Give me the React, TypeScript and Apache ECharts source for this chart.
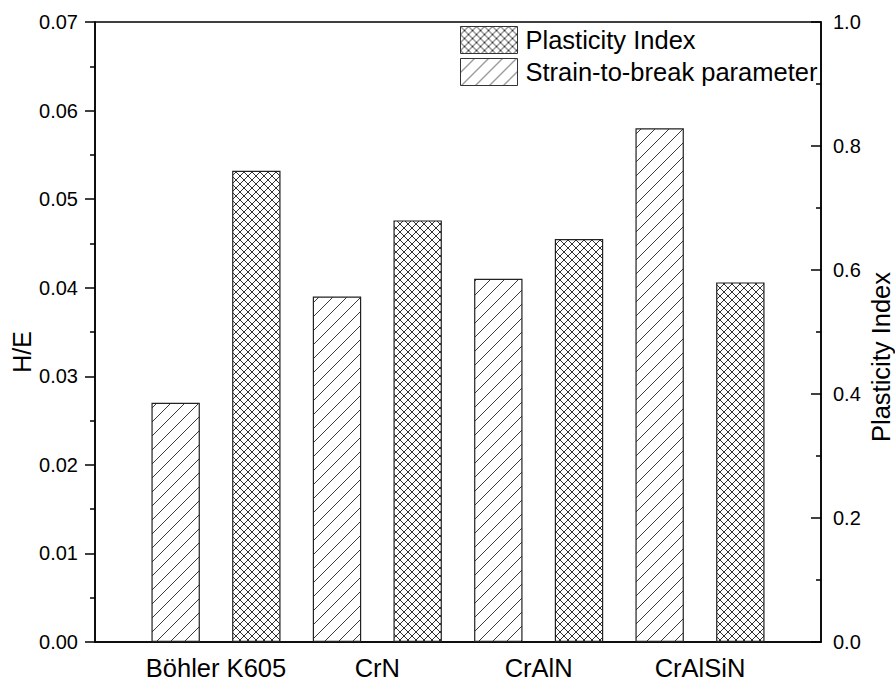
import React, { useEffect, useRef } from "react";
import * as echarts from "echarts";

// Coatings compared
const categories = ["Böhler K605", "CrN", "CrAlN", "CrAlSiN"];
// H/E ratio (strain-to-break parameter), left axis
const strainToBreak = [0.027, 0.039, 0.041, 0.058];
// Plasticity index, right axis
const plasticityIndex = [0.76, 0.68, 0.65, 0.58];

const FONT = "'Liberation Sans', Arial, Helvetica, sans-serif";

function makeDiagonalTile(): HTMLCanvasElement {
  const s = 14;
  const c = document.createElement("canvas");
  c.width = s;
  c.height = s;
  const ctx = c.getContext("2d")!;
  ctx.fillStyle = "#ffffff";
  ctx.fillRect(0, 0, s, s);
  ctx.strokeStyle = "#3a3a3a";
  ctx.lineWidth = 1;
  ctx.beginPath();
  ctx.moveTo(-2, s + 2);
  ctx.lineTo(s + 2, -2);
  ctx.moveTo(-2, 2);
  ctx.lineTo(2, -2);
  ctx.moveTo(s - 2, s + 2);
  ctx.lineTo(s + 2, s - 2);
  ctx.stroke();
  return c;
}

function makeCrossTile(): HTMLCanvasElement {
  const s = 8;
  const c = document.createElement("canvas");
  c.width = s;
  c.height = s;
  const ctx = c.getContext("2d")!;
  ctx.fillStyle = "#ffffff";
  ctx.fillRect(0, 0, s, s);
  ctx.strokeStyle = "#333333";
  ctx.lineWidth = 1;
  ctx.beginPath();
  ctx.moveTo(-1, -1);
  ctx.lineTo(s + 1, s + 1);
  ctx.moveTo(-1, s + 1);
  ctx.lineTo(s + 1, -1);
  ctx.stroke();
  return c;
}

export default function App() {
  const ref = useRef<HTMLDivElement>(null);

  useEffect(() => {
    if (!ref.current) return;
    const chart = echarts.init(ref.current, undefined, { renderer: "svg" });

    const diagonal = { image: makeDiagonalTile(), repeat: "repeat" as const };
    const cross = { image: makeCrossTile(), repeat: "repeat" as const };

    const tickLabel = { fontSize: 20, color: "#000", fontFamily: FONT };

    chart.setOption({
      animation: false,
      backgroundColor: "#ffffff",
      textStyle: { fontFamily: FONT },
      grid: {
        left: 95,
        right: 74,
        top: 22,
        bottom: 34,
        show: true,
        borderColor: "#000",
        borderWidth: 1.5,
        backgroundColor: "transparent",
      },
      legend: {
        orient: "vertical",
        left: 460,
        top: 26,
        padding: 0,
        itemWidth: 57,
        itemHeight: 27,
        itemGap: 4,
        icon: "rect",
        data: ["Plasticity Index", "Strain-to-break parameter"],
        itemStyle: { borderColor: "#333", borderWidth: 1 },
        textStyle: {
          fontSize: 25.5,
          color: "#000",
          fontFamily: FONT,
          padding: [0, 0, 0, 3],
        },
      },
      xAxis: {
        type: "value",
        min: 0.25,
        max: 4.75,
        interval: 0.25,
        axisLine: { show: true, lineStyle: { color: "#000", width: 1.5 } },
        axisTick: { show: false },
        splitLine: { show: false },
        axisLabel: {
          fontSize: 25.5,
          color: "#000",
          fontFamily: FONT,
          margin: 13,
          formatter: (v: number) => {
            const i = Math.round(v);
            return Math.abs(v - i) < 1e-6 && i >= 1 && i <= categories.length
              ? categories[i - 1]
              : "";
          },
        },
      },
      yAxis: [
        {
          type: "value",
          position: "left",
          min: 0,
          max: 0.07,
          interval: 0.01,
          axisLine: { show: true, lineStyle: { color: "#000", width: 1.5 } },
          axisTick: { show: true, inside: false, length: 10, lineStyle: { color: "#000", width: 1.5 } },
          minorTick: { show: true, splitNumber: 2, length: 5, lineStyle: { color: "#000", width: 1.5 } },
          splitLine: { show: false },
          axisLabel: { ...tickLabel, margin: 17, formatter: (v: number) => v.toFixed(2) },
        },
        {
          type: "value",
          position: "right",
          min: 0,
          max: 1,
          interval: 0.2,
          axisLine: { show: true, lineStyle: { color: "#000", width: 1.5 } },
          axisTick: { show: true, inside: true, length: 10, lineStyle: { color: "#000", width: 1.5 } },
          minorTick: { show: true, splitNumber: 2, length: 5, lineStyle: { color: "#000", width: 1.5 } },
          splitLine: { show: false },
          axisLabel: { ...tickLabel, margin: 12, formatter: (v: number) => v.toFixed(1) },
        },
      ],
      series: [
        {
          name: "Strain-to-break parameter",
          type: "bar",
          yAxisIndex: 0,
          barWidth: "30%",
          barGap: "66.7%",
          data: strainToBreak.map((v, i) => [i + 1, v]),
          itemStyle: { color: diagonal, borderColor: "#222", borderWidth: 1.2 },
        },
        {
          name: "Plasticity Index",
          type: "bar",
          yAxisIndex: 1,
          barWidth: "30%",
          barGap: "66.7%",
          data: plasticityIndex.map((v, i) => [i + 1, v]),
          itemStyle: { color: cross, borderColor: "#222", borderWidth: 1.2 },
        },
      ],
      graphic: [
        {
          type: "text",
          x: 22,
          y: 352,
          rotation: Math.PI / 2,
          style: {
            text: "H/E",
            fontSize: 25,
            fontFamily: FONT,
            fill: "#000",
            align: "center",
            verticalAlign: "middle",
          },
        },
        {
          type: "text",
          x: 881,
          y: 357,
          rotation: Math.PI / 2,
          style: {
            text: "Plasticity Index",
            fontSize: 25.5,
            fontFamily: FONT,
            fill: "#000",
            align: "center",
            verticalAlign: "middle",
          },
        },
      ],
    });

    return () => chart.dispose();
  }, []);

  return (
    <div
      ref={ref}
      style={{ position: "fixed", left: 0, top: 0, width: 895, height: 681 }}
    />
  );
}
